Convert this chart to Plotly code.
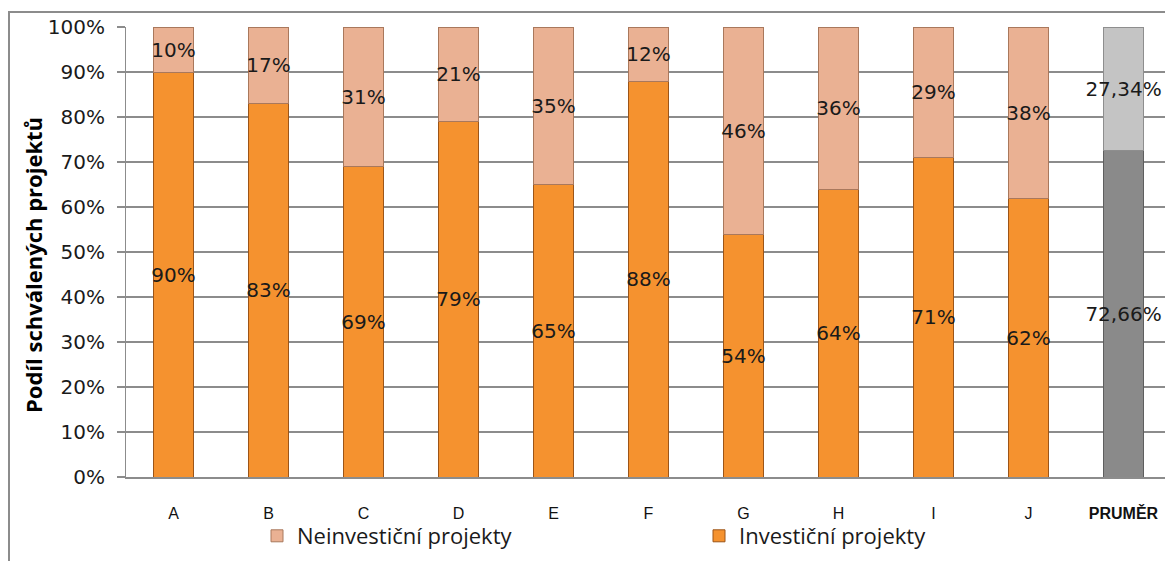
import plotly.graph_objects as go

# Categories and shares of approved projects (in %)
categories = ["A", "B", "C", "D", "E", "F", "G", "H", "I", "J", "<b>PRUMĚR</b>"]
investicni = [90, 83, 69, 79, 65, 88, 54, 64, 71, 62, 72.66]
neinvesticni = [10, 17, 31, 21, 35, 12, 46, 36, 29, 38, 27.34]

y_ticks = list(range(0, 101, 10))
y_tick_labels = [f"{t}%" for t in y_ticks]

ORANGE = "#F5922F"
SALMON = "#EAB193"
GREY_DARK = "#8A8A8A"
GREY_LIGHT = "#C4C4C4"


def fmt(v, avg):
    # the average bar uses two decimals with a decimal comma
    return (f"{v:.2f}".replace(".", ",") + "%") if avg else f"{v:.0f}%"


n = len(categories)
is_avg = [i == n - 1 for i in range(n)]

inv_colors = [GREY_DARK if a else ORANGE for a in is_avg]
non_colors = [GREY_LIGHT if a else SALMON for a in is_avg]
inv_lines = ["#5E5E5E" if a else "#9C5518" for a in is_avg]
non_lines = ["#8E8E8E" if a else "#A9785C" for a in is_avg]

label_font = dict(family="DejaVu Sans", size=20, color="#1A1A1A")

fig = go.Figure()
fig.add_trace(go.Bar(
    x=categories, y=investicni, name="Investiční projekty",
    marker=dict(color=inv_colors, line=dict(color=inv_lines, width=1)),
    text=[fmt(v, a) for v, a in zip(investicni, is_avg)],
    textposition="inside", insidetextanchor="middle", textangle=0,
    constraintext="none", textfont=label_font, width=0.42,
))
fig.add_trace(go.Bar(
    x=categories, y=neinvesticni, name="Neinvestiční projekty",
    marker=dict(color=non_colors, line=dict(color=non_lines, width=1)),
    text=[fmt(v, a) for v, a in zip(neinvesticni, is_avg)],
    textposition="inside", insidetextanchor="middle", textangle=0,
    constraintext="none", textfont=label_font, width=0.42,
))

W, H = 1165, 561
L, T, B = 126, 27, 84
plot_w = W - L
plot_h = H - T - B
step_px = 95.0

fig.update_layout(
    width=W, height=H,
    barmode="stack",
    margin=dict(l=L, r=0, t=T, b=B, autoexpand=False),
    paper_bgcolor="white", plot_bgcolor="white",
    showlegend=True,
    legend=dict(
        orientation="h", traceorder="reversed",
        x=(257 - L) / plot_w, xanchor="left",
        y=(477 - 536) / plot_h, yanchor="middle",
        entrywidth=397, entrywidthmode="pixels",
        font=dict(family="Open Sans", size=22, color="#1A1A1A"),
        bgcolor="rgba(0,0,0,0)",
    ),
    xaxis=dict(
        range=[-0.5, -0.5 + plot_w / step_px],
        showgrid=False, showline=True, linecolor="#8C8C8C", linewidth=2,
        ticks="", ticklabelstandoff=21,
        tickfont=dict(family="Liberation Sans Narrow, Liberation Sans", size=16, color="#111111"),
        fixedrange=True,
    ),
    yaxis=dict(
        range=[0, 100], tickvals=y_ticks, ticktext=y_tick_labels,
        showgrid=True, gridcolor="#8C8C8C", gridwidth=1.5,
        showline=True, linecolor="#8C8C8C", linewidth=1,
        ticks="outside", ticklen=8, tickcolor="#8C8C8C", tickwidth=1.5,
        ticklabelstandoff=8,
        tickfont=dict(family="DejaVu Sans", size=20, color="#1A1A1A"),
        zeroline=False, fixedrange=True,
    ),
    annotations=[dict(
        text="<b>Podíl schválených projektů</b>",
        xref="paper", yref="paper",
        x=(33 - L) / plot_w, y=(477 - 265) / plot_h,
        textangle=-90, showarrow=False,
        font=dict(family="Open Sans", size=22, color="#000000"),
        xanchor="center", yanchor="middle",
    )],
    shapes=[dict(
        type="rect", xref="paper", yref="paper",
        x0=(9 - L) / plot_w, x1=1.02,
        y0=(477 - 600) / plot_h, y1=(477 - 12) / plot_h,
        line=dict(color="#8C8C8C", width=2), fillcolor="rgba(0,0,0,0)",
        layer="below",
    )],
)

fig.write_html("out.html")
